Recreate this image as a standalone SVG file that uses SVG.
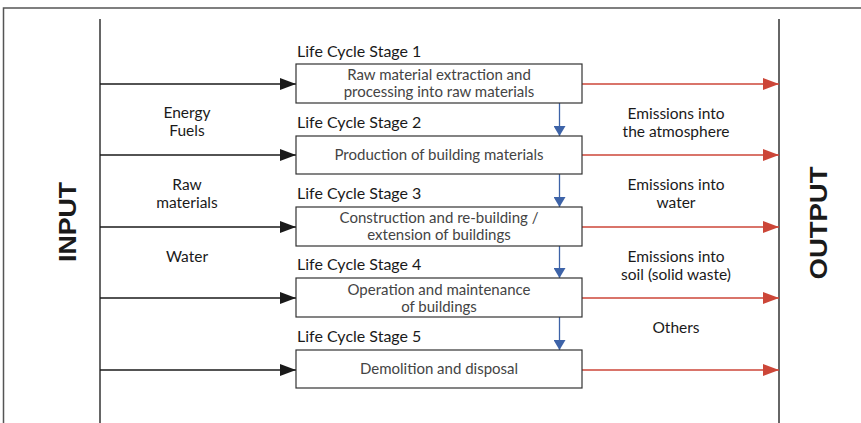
<svg xmlns="http://www.w3.org/2000/svg" width="861" height="423" viewBox="0 0 861 423">
<defs>
<marker id="ab" markerWidth="16" markerHeight="12" refX="16" refY="6" orient="auto" markerUnits="userSpaceOnUse"><path d="M0,0 L16,6 L0,12 Z" fill="#1a1a1a"/></marker>
<marker id="ar" markerWidth="16" markerHeight="12" refX="16" refY="6" orient="auto" markerUnits="userSpaceOnUse"><path d="M0,0 L16,6 L0,12 Z" fill="#cc4638"/></marker>
<marker id="au" markerWidth="10" markerHeight="12" refX="10" refY="6" orient="auto" markerUnits="userSpaceOnUse"><path d="M0,0 L10,6 L0,12 Z" fill="#3d63a8"/></marker>
</defs>
<style>
.frame{stroke:#555;stroke-width:1.5;fill:none}
.axis{stroke:#333;stroke-width:1.5;fill:none}
.box{fill:#fff;stroke:#333;stroke-width:1.2}
.in{stroke:#1a1a1a;stroke-width:1.3;marker-end:url(#ab)}
.out{stroke:#cc4638;stroke-width:1.3;marker-end:url(#ar)}
.flow{stroke:#3d63a8;stroke-width:1.3;marker-end:url(#au)}
.stage{font-family:Lato,"Liberation Sans",sans-serif;font-size:16px;fill:#1a1a1a}
.bt{font-family:Lato,"Liberation Sans",sans-serif;font-size:15px;fill:#444;text-anchor:middle}
.lbl{font-family:Lato,"Liberation Sans",sans-serif;font-size:15.5px;fill:#1a1a1a;text-anchor:middle}
.big{font-family:"Liberation Sans",Arial,sans-serif;font-size:24px;font-weight:bold;fill:#1a1a1a;text-anchor:middle}
</style>
<g id="frame">
<path class="frame" d="M3.5,423 L3.5,8 L861,8"/>
<line class="axis" x1="100" y1="19" x2="100" y2="423"/>
<line class="axis" x1="779" y1="19" x2="779" y2="423"/>
</g>
<g id="connectors">
<line class="in" x1="100" y1="84" x2="296" y2="84"/>
<line class="in" x1="100" y1="155" x2="296" y2="155"/>
<line class="in" x1="100" y1="227" x2="296" y2="227"/>
<line class="in" x1="100" y1="298" x2="296" y2="298"/>
<line class="in" x1="100" y1="370" x2="296" y2="370"/>
<line class="out" x1="582" y1="84" x2="779" y2="84"/>
<line class="out" x1="582" y1="155" x2="779" y2="155"/>
<line class="out" x1="582" y1="227" x2="779" y2="227"/>
<line class="out" x1="582" y1="298" x2="779" y2="298"/>
<line class="out" x1="582" y1="370" x2="779" y2="370"/>
<line class="flow" x1="559.5" y1="103" x2="559.5" y2="136"/>
<line class="flow" x1="559.5" y1="174" x2="559.5" y2="207"/>
<line class="flow" x1="559.5" y1="246" x2="559.5" y2="278"/>
<line class="flow" x1="559.5" y1="317" x2="559.5" y2="350"/>
</g>
<g id="stage1">
<text class="stage" x="297" y="57">Life Cycle Stage 1</text>
<rect class="box" x="296" y="64" width="286" height="39"/>
<text class="bt" x="439" y="80">Raw material extraction and</text>
<text class="bt" x="439" y="97">processing into raw materials</text>
</g>
<g id="stage2">
<text class="stage" x="297" y="128">Life Cycle Stage 2</text>
<rect class="box" x="296" y="136" width="286" height="38"/>
<text class="bt" x="439" y="160">Production of building materials</text>
</g>
<g id="stage3">
<text class="stage" x="297" y="199">Life Cycle Stage 3</text>
<rect class="box" x="296" y="207" width="286" height="39"/>
<text class="bt" x="439" y="223">Construction and re-building /</text>
<text class="bt" x="439" y="240">extension of buildings</text>
</g>
<g id="stage4">
<text class="stage" x="297" y="270">Life Cycle Stage 4</text>
<rect class="box" x="296" y="278" width="286" height="39"/>
<text class="bt" x="439" y="295">Operation and maintenance</text>
<text class="bt" x="439" y="312">of buildings</text>
</g>
<g id="stage5">
<text class="stage" x="297" y="342">Life Cycle Stage 5</text>
<rect class="box" x="296" y="350" width="286" height="38"/>
<text class="bt" x="439" y="374">Demolition and disposal</text>
</g>
<g id="inputs">
<text class="lbl" x="187" y="118">Energy</text>
<text class="lbl" x="187" y="136">Fuels</text>
<text class="lbl" x="187" y="190">Raw</text>
<text class="lbl" x="187" y="208">materials</text>
<text class="lbl" x="187" y="262">Water</text>
</g>
<g id="outputs">
<text class="lbl" x="676" y="119">Emissions into</text>
<text class="lbl" x="676" y="137">the atmosphere</text>
<text class="lbl" x="676" y="190">Emissions into</text>
<text class="lbl" x="676" y="208">water</text>
<text class="lbl" x="676" y="262">Emissions into</text>
<text class="lbl" x="676" y="280">soil (solid waste)</text>
<text class="lbl" x="676" y="333">Others</text>
</g>
<g id="input-title">
<text class="big" transform="translate(75.5,222) rotate(-90)" textLength="80" lengthAdjust="spacingAndGlyphs">INPUT</text>
</g>
<g id="output-title">
<text class="big" transform="translate(826.5,223) rotate(-90)" textLength="113" lengthAdjust="spacingAndGlyphs">OUTPUT</text>
</g>
</svg>
